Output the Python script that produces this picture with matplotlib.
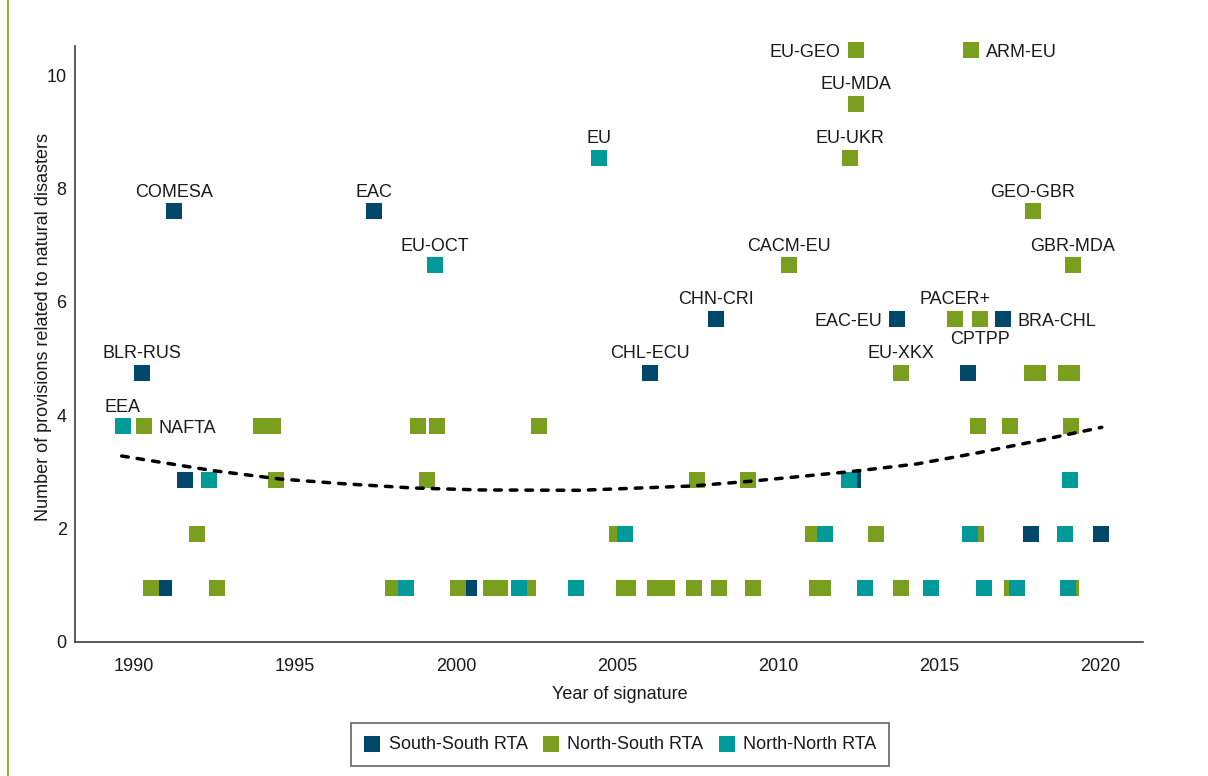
import matplotlib.pyplot as plt
from matplotlib.lines import Line2D

plt.rcParams['font.family'] = ['Liberation Sans', 'DejaVu Sans']

# year of signature / number of provisions, per RTA type
ss_year = [1990.25, 1990.93, 1991.24, 1991.58, 1997.45, 2000.40, 2006.02, 2008.07,
           2012.33, 2013.70, 2015.90, 2016.99, 2017.86, 2020.03]
ss_prov = [4.75, 0.95, 7.6, 2.85, 7.6, 0.95, 4.75, 5.7,
           2.85, 5.7, 4.75, 5.7, 1.9, 1.9]

ns_year = [1990.31, 1990.53, 1991.96, 1992.58, 1993.94, 1994.32, 1994.41, 1998.04,
           1998.82, 1999.10, 1999.41, 2000.06, 2001.09, 2001.37, 2002.24, 2002.58,
           2005.00, 2005.22, 2005.34, 2006.18, 2006.55, 2007.39, 2007.48, 2008.17,
           2009.07, 2009.22, 2010.34, 2011.09, 2011.21, 2011.40, 2012.24, 2012.42,
           2012.42, 2013.04, 2013.82, 2013.82, 2015.50, 2015.99, 2016.15, 2016.21,
           2016.27, 2017.20, 2017.27, 2017.89, 2017.92, 2018.07, 2018.94, 2019.10,
           2019.10, 2019.13, 2019.16]
ns_prov = [3.8, 0.95, 1.9, 0.95, 3.8, 3.8, 2.85, 0.95,
           3.8, 2.85, 3.8, 0.95, 0.95, 0.95, 0.95, 3.8,
           1.9, 0.95, 0.95, 0.95, 0.95, 0.95, 2.85, 0.95,
           2.85, 0.95, 6.65, 1.9, 0.95, 0.95, 8.55, 9.5,
           10.45, 1.9, 0.95, 4.75, 5.7, 10.45, 1.9, 3.8,
           5.7, 3.8, 0.95, 4.75, 7.6, 4.75, 4.75, 3.8,
           0.95, 4.75, 6.65]

nn_year = [1989.66, 1992.33, 1998.45, 1999.35, 2001.96, 2003.73, 2004.44, 2005.25,
           2011.46, 2012.20, 2012.70, 2014.75, 2015.96, 2016.40, 2017.42, 2018.91,
           2019.01, 2019.07]
nn_prov = [3.8, 2.85, 0.95, 6.65, 0.95, 0.95, 8.55, 1.9,
           1.9, 2.85, 0.95, 0.95, 1.9, 0.95, 0.95, 1.9,
           0.95, 2.85]

# trend line
trend_year = [1989.62, 1992.46, 1994.53, 1996.61, 1998.67, 2000.75, 2003.85,
              2007.32, 2009.13, 2012.24, 2014.31, 2016.24, 2018.19, 2020.06]
trend_prov = [3.277, 3.018, 2.871, 2.783, 2.712, 2.677, 2.671,
              2.747, 2.830, 3.000, 3.136, 3.336, 3.560, 3.784]

label_names = ['EEA', 'NAFTA', 'BLR-RUS', 'COMESA', 'EAC', 'EU-OCT', 'EU', 'CHL-ECU',
               'CHN-CRI', 'CACM-EU', 'EU-UKR', 'EU-MDA', 'EU-GEO', 'ARM-EU', 'EAC-EU',
               'EU-XKX', 'PACER+', 'CPTPP', 'BRA-CHL', 'GEO-GBR', 'GBR-MDA']
label_year = [1989.66, 1990.31, 1990.25, 1991.24, 1997.45, 1999.35, 2004.44, 2006.02,
              2008.07, 2010.34, 2012.24, 2012.42, 2012.42, 2015.99, 2013.70,
              2013.82, 2015.50, 2016.27, 2016.99, 2017.92, 2019.16]
label_prov = [3.8, 3.8, 4.75, 7.6, 7.6, 6.65, 8.55, 4.75,
              5.7, 6.65, 8.55, 9.5, 10.45, 10.45, 5.7,
              4.75, 5.7, 5.7, 5.7, 7.6, 6.65]

xticks = [1990, 1995, 2000, 2005, 2010, 2015, 2020]
yticks = [0, 2, 4, 6, 8, 10]

c_ss = '#00486A'
c_ns = '#7A9E1D'
c_nn = '#009A9A'
txt = '#1a1a1a'

# where each label sits relative to its marker (pixels)
side = {'NAFTA': 'right', 'EU-GEO': 'left', 'ARM-EU': 'right', 'EAC-EU': 'left',
        'BRA-CHL': 'right', 'CPTPP': 'below'}

fig = plt.figure(figsize=(12.08, 7.76), dpi=100)
ax = fig.add_axes([75 / 1208, 1 - 641.5 / 776, 1068 / 1208, 595.5 / 776])

ms = 11.5 ** 2
ax.scatter(ss_year, ss_prov, marker='s', s=ms, color=c_ss, linewidths=0,
           label='South-South RTA', zorder=2, clip_on=False)
ax.scatter(ns_year, ns_prov, marker='s', s=ms, color=c_ns, linewidths=0,
           label='North-South RTA', zorder=3, clip_on=False)
ax.scatter(nn_year, nn_prov, marker='s', s=ms, color=c_nn, linewidths=0,
           label='North-North RTA', zorder=4, clip_on=False)

ax.plot(trend_year, trend_prov, color='black', lw=2.5, dashes=(1.9, 2.6),
        dash_capstyle='round', zorder=5)

for name, x, y in zip(label_names, label_year, label_prov):
    s = side.get(name, 'above')
    if s == 'above':
        off, ha = (0, 14.5), 'center'
    elif s == 'left':
        off, ha = (-15, -7), 'right'
    elif s == 'right':
        off, ha = (15, -7), 'left'
    else:
        off, ha = (0, -25.5), 'center'
    ax.annotate(name, (x, y), xytext=off, textcoords='offset pixels',
                ha=ha, va='baseline', fontsize=13, color=txt, zorder=6)

ax.set_xlim(1988.17, 2021.34)
ax.set_ylim(0, 10.52)
ax.set_xticks(xticks)
ax.set_yticks(yticks)
ax.tick_params(length=0, labelsize=13, labelcolor=txt)
ax.tick_params(axis='x', pad=12)
ax.tick_params(axis='y', pad=6)

for sp in ['top', 'right']:
    ax.spines[sp].set_visible(False)
for sp in ['left', 'bottom']:
    ax.spines[sp].set_color('#404040')
    ax.spines[sp].set_linewidth(1.2)

ax.set_xlabel('Year of signature', fontsize=13, color=txt)
ax.set_ylabel('Number of provisions related to natural disasters', fontsize=13, color=txt)
ax.xaxis.set_label_coords(0.51, -0.0747)
ax.yaxis.set_label_coords(-0.0218, 0.528)

leg = fig.legend(loc='center', bbox_to_anchor=(620 / 1208, 1 - 744.5 / 776), ncol=3,
                 fontsize=13, frameon=True, fancybox=False, scatterpoints=1,
                 handlelength=1.0, handletextpad=0.4, columnspacing=0.8, borderpad=0.7)
leg.get_frame().set_edgecolor('#404040')
leg.get_frame().set_linewidth(1.2)
for t in leg.get_texts():
    t.set_color(txt)

# green rule on the left edge of the figure
fig.add_artist(Line2D([8 / 1208, 8 / 1208], [0, 1], color='#8DB33F', lw=1.5))

fig.savefig('out.png', dpi=100)
